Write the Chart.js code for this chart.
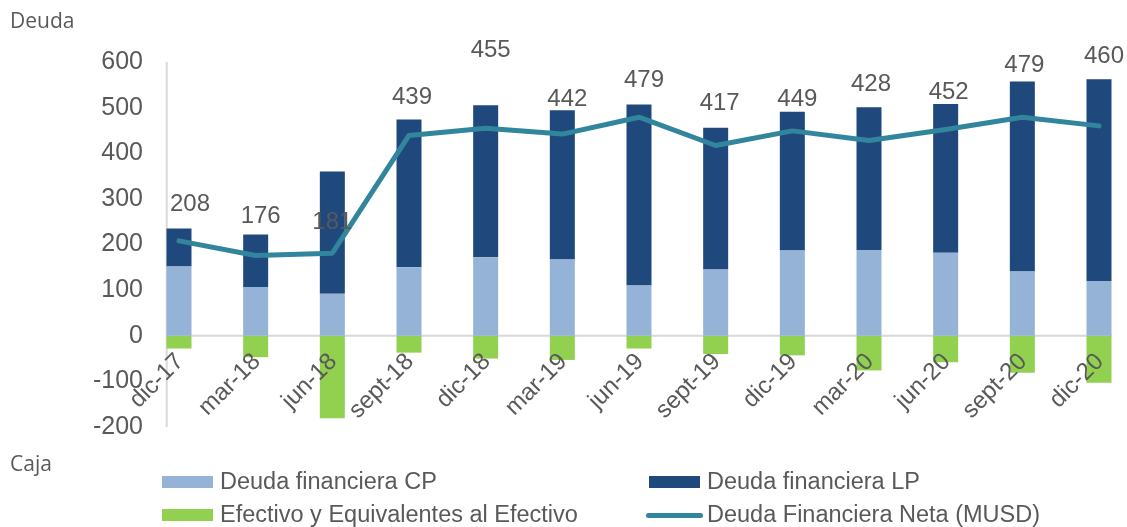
<!DOCTYPE html>
<html><head><meta charset="utf-8">
<script src="https://cdn.jsdelivr.net/npm/chart.js@4.4.1/dist/chart.umd.min.js"></script>
<style>
html,body{margin:0;padding:0;background:#fff;}
#wrap{position:relative;width:1127px;height:527px;overflow:hidden;}
canvas{position:absolute;left:0;top:0;}
.ax{position:absolute;font-family:'Open Sans',sans-serif;font-size:21px;color:#595959;line-height:1;}
.lg{position:absolute;font-family:'Liberation Sans',Arial,sans-serif;font-size:23.5px;color:#595959;white-space:nowrap;line-height:1;}
.sw{position:absolute;}
</style></head><body>
<div id="wrap"><canvas id="c" width="1127" height="527"></canvas>
<div class="ax" style="left:10px;top:10px">Deuda</div>
<div class="ax" style="left:10px;top:453px">Caja</div>
<div id="legend"></div></div>
<script>
const categories = ['dic-17','mar-18','jun-18','sept-18','dic-18','mar-19','jun-19','sept-19','dic-19','mar-20','jun-20','sept-20','dic-20'];
const deudaCP  = [152,107,92,150,172,167,110,145,187,188,182,141,120];
const deudaLP  = [83,115,268,324,333,327,397,311,304,313,326,416,442];
const efectivo = [-28,-47,-181,-37,-50,-53,-28,-40,-43,-76,-58,-81,-103];
const deudaNeta = [208,176,181,439,455,442,479,417,449,428,452,479,460];
const yMin = -200, yMax = 600, yStep = 100;

const seriesNames = ['Deuda financiera CP','Deuda financiera LP','Efectivo y Equivalentes al Efectivo','Deuda Financiera Neta (MUSD)'];
const colors = {cp:'#95B3D7', lp:'#1F497D', cash:'#92D050', net:'#31859C'};
const txt = '#595959';
const F = "'Liberation Sans', Arial, sans-serif";

// per-label nudges [dx, dy above point] for the net debt labels
const labelNudge = [[11,36],[5,39],[0,31],[3,38],[5,78],[5,35],[5,37],[4,42],[5,32],[2,56],[3,37],[2,52],[5,70]];

const axisLines = {
  id:'axisLines',
  beforeDatasetsDraw(chart){
    const {ctx} = chart; const x = chart.scales.x, y = chart.scales.y;
    const ax = x.getPixelForValue(-0.16);
    const rx = x.getPixelForValue(categories.length - 1 + 0.17);
    const y0 = y.getPixelForValue(0);
    ctx.save();
    ctx.strokeStyle = '#D9D9D9'; ctx.lineWidth = 2;
    ctx.beginPath();
    ctx.moveTo(ax, y.getPixelForValue(yMax)); ctx.lineTo(ax, y.getPixelForValue(yMin));
    ctx.moveTo(ax, y0); ctx.lineTo(rx, y0);
    ctx.stroke();
    ctx.restore();
  }
};
const netLabels = {
  id:'netLabels',
  afterDatasetsDraw(chart){
    const {ctx} = chart; const meta = chart.getDatasetMeta(3);
    ctx.save();
    ctx.font = '24px ' + F; ctx.fillStyle = txt; ctx.textAlign='center'; ctx.textBaseline='middle';
    meta.data.forEach((pt,i)=>{
      const n = labelNudge[i];
      ctx.fillText(String(deudaNeta[i]), pt.x + n[0], pt.y - n[1]);
    });
    ctx.restore();
  }
};

const chart = new Chart(document.getElementById('c'), {
  data:{
    labels: categories,
    datasets:[
      {type:'bar', label:seriesNames[0], data:deudaCP, backgroundColor:colors.cp, stack:'s', order:2, clip:false},
      {type:'bar', label:seriesNames[1], data:deudaLP, backgroundColor:colors.lp, stack:'s', order:2, clip:false},
      {type:'bar', label:seriesNames[2], data:efectivo, backgroundColor:colors.cash, stack:'s', order:2, clip:false},
      {type:'line', label:seriesNames[3], data:deudaNeta, borderColor:colors.net, backgroundColor:colors.net, borderWidth:5,
       pointRadius:0, tension:0, stack:'net', order:0, clip:false, borderCapStyle:'round', borderJoinStyle:'round'}
    ]
  },
  options:{
    responsive:false, animation:false, devicePixelRatio:1,
    categoryPercentage:0.326, barPercentage:1,
    layout:{padding:{left:0,right:28,top:62,bottom:100}},
    plugins:{legend:{display:false}, tooltip:{enabled:false}},
    scales:{
      x:{type:'category', position:{y:0}, offset:false, stacked:true,
         grid:{display:false}, border:{display:false},
         ticks:{z:1, minRotation:45, maxRotation:45, autoSkip:false, padding:4, labelOffset:1, color:txt, font:{family:F, size:24}}},
      y:{type:'linear', stacked:true, min:yMin, max:yMax,
         grid:{display:false}, border:{display:false},
         ticks:{stepSize:yStep, padding:28, color:txt, font:{family:F, size:25}},
         afterFit(s){ s.width = 179; }}
    }
  },
  plugins:[axisLines, netLabels]
});

// legend built from the chart's datasets
const lg = document.getElementById('legend');
const pos = [[162,220,482],[649,707,482],[162,220,515],[649,707,515]];
chart.data.datasets.forEach((ds,i)=>{
  const [bx,tx,cy] = pos[i];
  const sw = document.createElement('div'); sw.className='sw';
  if (ds.type === 'line'){
    sw.style.cssText = `left:${bx-3}px;top:${cy-2.5}px;width:57px;height:5px;border-radius:3px;background:${ds.borderColor}`;
  } else {
    sw.style.cssText = `left:${bx}px;top:${cy-6}px;width:51px;height:12px;background:${ds.backgroundColor}`;
  }
  lg.appendChild(sw);
  const t = document.createElement('div'); t.className='lg'; t.textContent = ds.label;
  t.style.left = tx+'px'; t.style.top = (cy-12)+'px';
  lg.appendChild(t);
});
</script>
</body></html>
